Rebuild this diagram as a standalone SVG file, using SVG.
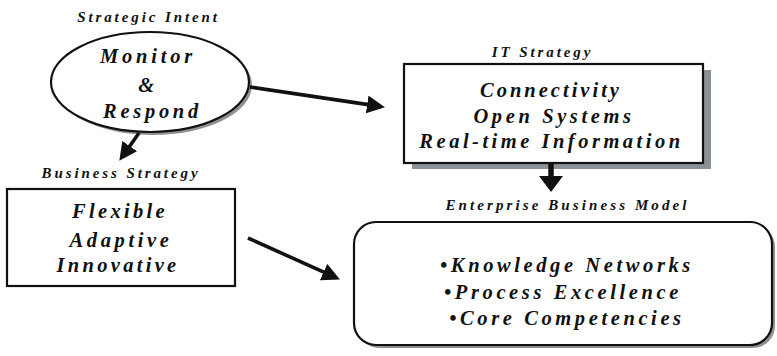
<svg xmlns="http://www.w3.org/2000/svg" width="777" height="356" viewBox="0 0 777 356">
  <style>
    .lbl { font-family: "Liberation Serif", "Times New Roman", serif; font-weight: bold; font-style: italic; font-size: 15px; fill: #111; text-anchor: middle; letter-spacing: 2.9px; }
    .txt { font-family: "Liberation Serif", "Times New Roman", serif; font-weight: bold; font-style: italic; font-size: 20.5px; fill: #111; text-anchor: middle; letter-spacing: 3.6px; }
    .shape { fill: #fff; stroke: #111; stroke-width: 2.2; }
    .shadow { fill: #8c9196; }
    .conn { stroke: #111; stroke-width: 3.6; fill: none; }
  </style>
  <defs>
    <marker id="head" markerUnits="userSpaceOnUse" markerWidth="18" markerHeight="18" viewBox="0 0 18 18" refX="13" refY="9" orient="auto">
      <path d="M0,0 L18,9 L0,18 z" fill="#111"/>
    </marker>
    <marker id="headWide" markerUnits="userSpaceOnUse" markerWidth="16" markerHeight="24" viewBox="0 0 16 24" refX="4" refY="12" orient="auto">
      <path d="M0,0 L16,12 L0,24 z" fill="#111"/>
    </marker>
  </defs>

  <!-- Strategic intent -->
  <g id="strategic-intent">
    <text class="lbl" x="148.5" y="22">Strategic Intent</text>
    <ellipse class="shadow" cx="153" cy="85" rx="99" ry="50"/>
    <ellipse class="shape" cx="150" cy="82" rx="99" ry="50"/>
    <text class="txt" x="148" y="63" style="letter-spacing:3.8px">Monitor</text>
    <text class="txt" x="148" y="92">&amp;</text>
    <text class="txt" x="152.5" y="118" style="letter-spacing:3.7px">Respond</text>
  </g>

  <!-- IT strategy -->
  <g id="it-strategy">
    <text class="lbl" x="542.5" y="57">IT Strategy</text>
    <rect class="shadow" x="412" y="70" width="299" height="99"/>
    <rect class="shape" x="404" y="64" width="299" height="99"/>
    <text class="txt" x="551" y="97" style="letter-spacing:3px">Connectivity</text>
    <text class="txt" x="554" y="123">Open Systems</text>
    <text class="txt" x="551.5" y="148" style="letter-spacing:3.5px">Real-time Information</text>
  </g>

  <!-- Business strategy -->
  <g id="business-strategy">
    <text class="lbl" x="121" y="178">Business Strategy</text>
    <rect class="shape" x="7" y="189" width="228" height="97"/>
    <text class="txt" x="120" y="218" style="letter-spacing:3.3px">Flexible</text>
    <text class="txt" x="121" y="247">Adaptive</text>
    <text class="txt" x="118" y="272" style="letter-spacing:3.3px">Innovative</text>
  </g>

  <!-- Enterprise business model -->
  <g id="enterprise-business-model">
    <text class="lbl" x="567.5" y="210" style="letter-spacing:3.1px">Enterprise Business Model</text>
    <rect class="shadow" x="357" y="225" width="418" height="123" rx="22"/>
    <rect class="shape" x="354" y="222" width="418" height="123" rx="22"/>
    <text class="txt" x="567" y="272">•Knowledge Networks</text>
    <text class="txt" x="563" y="299">•Process Excellence</text>
    <text class="txt" x="567" y="325">•Core Competencies</text>
  </g>

  <!-- Connectors -->
  <g id="connectors">
    <line class="conn" x1="139" y1="133" x2="122.2" y2="156.7" marker-end="url(#head)"/>
    <line class="conn" x1="250" y1="87" x2="380" y2="106.4" marker-end="url(#head)"/>
    <line class="conn" x1="248" y1="238" x2="335.4" y2="277.4" marker-end="url(#head)"/>
    <line class="conn" x1="551" y1="162" x2="551" y2="180" style="stroke-width:5.5" marker-end="url(#headWide)"/>
  </g>
</svg>
